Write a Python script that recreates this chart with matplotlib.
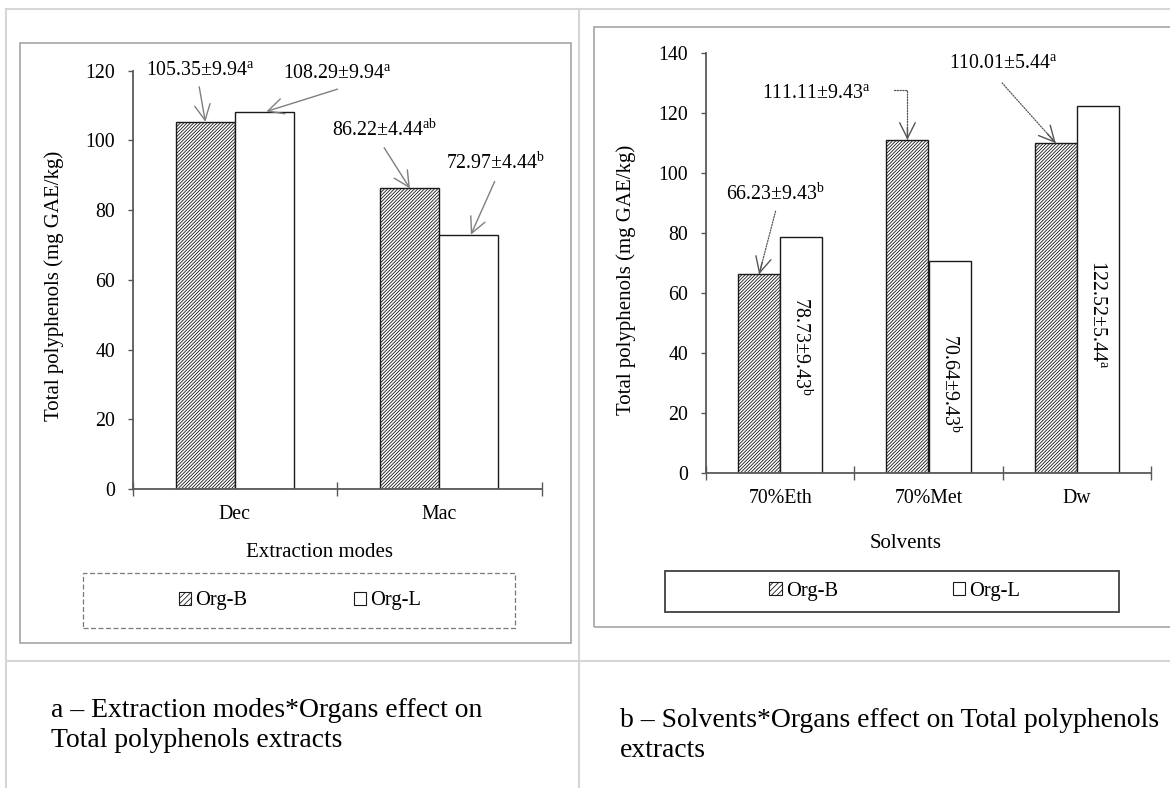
import matplotlib
matplotlib.use('Agg')
import matplotlib.pyplot as plt
from matplotlib.patches import Rectangle, Patch
from matplotlib.lines import Line2D
import numpy as np

plt.rcParams['font.family'] = ['Liberation Serif', 'DejaVu Serif']
plt.rcParams['mathtext.fontset'] = 'custom'
plt.rcParams['mathtext.rm'] = 'Liberation Serif'
plt.rcParams['mathtext.it'] = 'Liberation Serif:italic'
plt.rcParams['hatch.linewidth'] = 0.6

# ---------------- data ----------------
series = ['Org-B', 'Org-L']

modes = ['Dec', 'Mac']
orgb_modes = [105.35, 86.22]
orgl_modes = [108.29, 72.97]
err_modes_b = [9.94, 4.44]
err_modes_l = [9.94, 4.44]
let_modes_b = ['a', 'ab']
let_modes_l = ['a', 'b']

solvents = ['70%Eth', '70%Met', 'Dw']
orgb_solv = [66.23, 111.11, 110.01]
orgl_solv = [78.73, 70.64, 122.52]
err_solv_b = [9.43, 9.43, 5.44]
err_solv_l = [9.43, 9.43, 5.44]
let_solv_b = ['b', 'a', 'a']
let_solv_l = ['b', 'b', 'a']

caption_a = ['a \u2013 Extraction modes*Organs effect on', 'Total polyphenols extracts']
caption_b = ['b \u2013 Solvents*Organs effect on Total polyphenols', 'extracts']

# ---------------- layout ----------------
W, H = 1170, 788
fig = plt.figure(figsize=(W / 100, H / 100), dpi=100)


def fx(x):
    return x / W


def fy(y):
    return 1 - y / H


TABLE = '#d6d6d6'
FRAME = '#a6a6a6'
AXC = '#595959'
EDGE = '#1a1a1a'
ARROW = '#7f7f7f'
HATCH = '//////////'

# table grid
for (x0, y0, x1, y1) in [(6, 9, 1170, 9), (6, 9, 6, 788), (578.5, 9, 578.5, 788), (6, 661, 1170, 661)]:
    fig.add_artist(Line2D([fx(x0), fx(x1)], [fy(y0), fy(y1)], transform=fig.transFigure,
                          color=TABLE, lw=1.5, zorder=0))

# chart frames
fig.add_artist(Rectangle((fx(20), fy(643.3)), (570.7 - 20) / W, (643.3 - 42.7) / H,
                         transform=fig.transFigure, fill=False, ec=FRAME, lw=1.2, zorder=0))
fig.add_artist(Rectangle((fx(594), fy(627.3)), (1200 - 594) / W, (627.3 - 26.7) / H,
                         transform=fig.transFigure, fill=False, ec=FRAME, lw=1.2, zorder=0))

axA = fig.add_axes([fx(132.5), fy(489), (541.7 - 132.5) / W, (489 - 70.7) / H])
axB = fig.add_axes([fx(706), fy(472.7), (1151 - 706) / W, (472.7 - 53.3) / H])


def style(ax, cats, top, xpad, ypad):
    n = len(cats)
    ax.set_facecolor('none')
    ax.set_xlim(-0.5, n - 0.5)
    ax.set_ylim(0, top)
    for s in ['top', 'right']:
        ax.spines[s].set_visible(False)
    for s in ['left', 'bottom']:
        ax.spines[s].set_color(AXC)
        ax.spines[s].set_linewidth(1.3)
    ax.set_yticks(np.arange(0, top + 1, 20))
    ax.tick_params(axis='y', direction='out', length=3.6, width=1.0, color=AXC,
                   labelsize=14.3, pad=ypad)
    ax.set_xticks(np.arange(n + 1) - 0.5)
    ax.set_xticklabels([''] * (n + 1))
    ax.tick_params(axis='x', which='major', direction='inout', length=9.5, width=1.0, color=AXC)
    ax.set_xticks(np.arange(n), minor=True)
    ax.set_xticklabels(cats, minor=True)
    ax.tick_params(axis='x', which='minor', length=0, labelsize=14.3, pad=xpad)


def bars(ax, b, l, w):
    x = np.arange(len(b))
    ax.bar(x - w / 2, b, w, facecolor='white', edgecolor=EDGE, hatch=HATCH, lw=1.0, zorder=2)
    ax.bar(x + w / 2, l, w, facecolor='white', edgecolor=EDGE, lw=1.0, zorder=2)


def lab(v, e, l):
    return f'{v:.2f}\u00b1{e:.2f}' + r'$^{\mathrm{' + l + '}}$'


def arrow(ax, start, tip, dotted=False, angle=False):
    head = '->,head_length=0.8,head_width=0.4'
    if not dotted:
        ax.annotate('', xy=tip, xytext=start,
                    arrowprops=dict(arrowstyle=head, color=ARROW, lw=1.0, shrinkA=0, shrinkB=0,
                                    mutation_scale=14), zorder=3)
        return
    cs = 'angle,angleA=0,angleB=90,rad=0' if angle else 'arc3'
    ax.annotate('', xy=tip, xytext=start,
                arrowprops=dict(arrowstyle='-', color='#555555', lw=0.9, shrinkA=0, shrinkB=0,
                                linestyle=(0, (1.0, 1.2)), connectionstyle=cs), zorder=3)
    # solid arrow head
    if angle:
        d = np.array([0.0, 1.0])
    else:
        p0 = ax.transData.transform(start)
        p1 = ax.transData.transform(tip)
        d = (p0 - p1) / np.hypot(*(p0 - p1))
    off = d * 9
    ax.annotate('', xy=tip, xytext=(off[0], off[1]), textcoords='offset points',
                arrowprops=dict(arrowstyle=head, color='#555555', lw=1.0, shrinkA=0, shrinkB=0,
                                mutation_scale=14), zorder=3)


# ---------------- panel a ----------------
wA = 0.288
style(axA, modes, 120, 11.5, 9)
bars(axA, orgb_modes, orgl_modes, wA)
axA.set_ylabel('Total polyphenols (mg GAE/kg)', fontsize=15, va='center')
axA.yaxis.set_label_coords(-0.192, 0.486)
axA.set_xlabel('Extraction modes', fontsize=15, va='center')
axA.xaxis.set_label_coords(0.458, -0.151)

# label centre, arrow start (data coords)
a_text_b = [(-0.170, 120.2), (0.734, 103.0)]
a_start_b = [(-0.174, 115.4), (0.730, 97.9)]
a_text_l = [(0.500, 119.3), (1.272, 93.5)]
a_start_l = [(0.502, 114.7), (1.270, 88.2)]
for i in range(len(modes)):
    axA.text(*a_text_b[i], lab(orgb_modes[i], err_modes_b[i], let_modes_b[i]),
             ha='center', va='center', fontsize=14.3, zorder=4)
    arrow(axA, a_start_b[i], (i - wA / 2, orgb_modes[i]))
    axA.text(*a_text_l[i], lab(orgl_modes[i], err_modes_l[i], let_modes_l[i]),
             ha='center', va='center', fontsize=14.3, zorder=4)
    arrow(axA, a_start_l[i], (i + wA / 2 + 0.01, orgl_modes[i]))

# ---------------- panel b ----------------
wB = 0.284
style(axB, solvents, 140, 12, 9.4)
bars(axB, orgb_solv, orgl_solv, wB)
axB.set_ylabel('Total polyphenols (mg GAE/kg)', fontsize=15, va='center')
axB.yaxis.set_label_coords(-0.18, 0.459)
axB.set_xlabel('Solvents', fontsize=15, va='center')
axB.xaxis.set_label_coords(0.449, -0.170)

b_text_b = [(-0.031, 93.0), (0.242, 126.7), (1.502, 136.7)]
b_start_b = [(-0.031, 87.3), (0.767, 127.7), (1.496, 130.1)]
b_angle = [False, True, False]
b_rot_top = [58.5, 46.3, 71.0]
for i in range(len(solvents)):
    axB.text(*b_text_b[i], lab(orgb_solv[i], err_solv_b[i], let_solv_b[i]),
             ha='center', va='center', fontsize=14.3, zorder=4)
    arrow(axB, b_start_b[i], (i - wB / 2, orgb_solv[i]), dotted=True, angle=b_angle[i])
    axB.text(i + wB / 2, b_rot_top[i], lab(orgl_solv[i], err_solv_l[i], let_solv_l[i]),
             rotation=-90, ha='center', va='top', fontsize=14.3, zorder=4)

# ---------------- legends ----------------
def handles():
    return [Patch(facecolor='white', edgecolor=EDGE, hatch='//////', lw=0.8),
            Patch(facecolor='white', edgecolor=EDGE, lw=0.8)]


fig.add_artist(Rectangle((fx(83), fy(628)), (515 - 83) / W, (628 - 573) / H,
                         transform=fig.transFigure, fill=False, ec='#7a7a7a',
                         ls=(0, (4, 2)), lw=0.9, zorder=1))
fig.legend(handles(), series, loc='center', bbox_to_anchor=(fx(300), fy(601)), ncol=2,
           frameon=False, fontsize=14.8, handlelength=0.6, handleheight=0.6,
           handletextpad=0.2, columnspacing=5.2)

fig.add_artist(Rectangle((fx(665), fy(611.7)), (1119.3 - 665) / W, (611.7 - 570.7) / H,
                         transform=fig.transFigure, fill=False, ec='#404040', lw=1.3, zorder=1))
fig.legend(handles(), series, loc='center', bbox_to_anchor=(fx(895), fy(591.5)), ncol=2,
           frameon=False, fontsize=14.8, handlelength=0.6, handleheight=0.6,
           handletextpad=0.2, columnspacing=5.6)

# ---------------- captions ----------------
CAP = 19.9
fig.text(fx(51), fy(716.7), caption_a[0], fontsize=CAP, ha='left', va='baseline')
fig.text(fx(51), fy(746.7), caption_a[1], fontsize=CAP, ha='left', va='baseline')
fig.text(fx(619.5), fy(726.7), caption_b[0], fontsize=CAP, ha='left', va='baseline')
fig.text(fx(619.5), fy(756.7), caption_b[1], fontsize=CAP, ha='left', va='baseline')

fig.savefig('out.png', dpi=100)
